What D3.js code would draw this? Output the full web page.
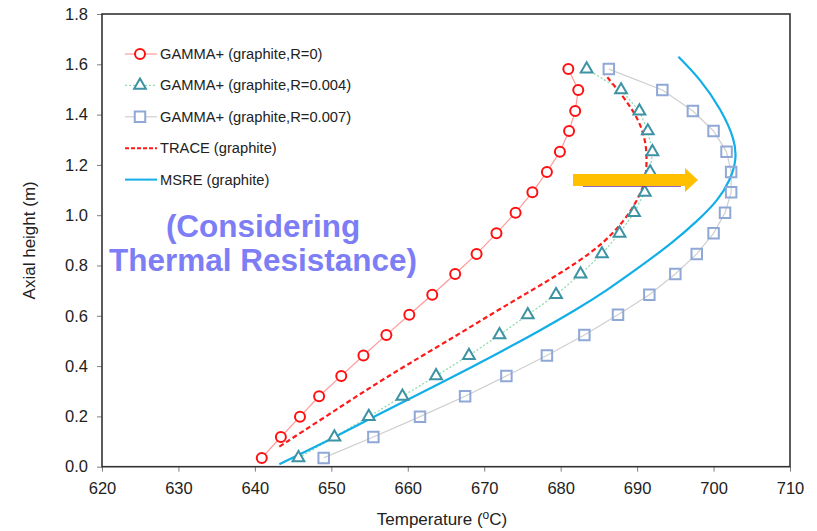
<!DOCTYPE html>
<html>
<head>
<meta charset="utf-8">
<script src="https://cdn.jsdelivr.net/npm/d3@7/dist/d3.min.js"></script>
<style>
body { margin: 0; background: #fff; }
text { font-family: Arial, "Liberation Sans", sans-serif; }
</style>
</head>
<body>
<div id="chart"></div>
<script>
// axial node heights (m) shared by the three GAMMA+ runs
var gammaHeights = [0.035, 0.118, 0.199, 0.280, 0.361, 0.442, 0.524, 0.604, 0.684, 0.766,
                    0.846, 0.928, 1.010, 1.091, 1.172, 1.252, 1.335, 1.414, 1.498, 1.581];
var gammaR0    = [640.9, 643.4, 645.9, 648.4, 651.3, 654.2, 657.2, 660.2, 663.2, 666.2,
                  669.0, 671.6, 674.1, 676.3, 678.2, 679.9, 681.1, 681.9, 682.3, 681.0];
var gammaR004  = [645.7, 650.4, 654.9, 659.3, 663.7, 668.0, 672.0, 675.7, 679.4, 682.6,
                  685.4, 687.7, 689.6, 691.0, 691.7, 692.0, 691.4, 690.3, 687.9, 683.4];
var gammaR007  = [649.0, 655.5, 661.6, 667.5, 672.9, 678.2, 683.1, 687.5, 691.6, 695.0,
                  697.8, 700.0, 701.5, 702.3, 702.3, 701.7, 700.0, 697.3, 693.3, 686.3];

var traceHeights = [0.08, 0.20, 0.30, 0.40, 0.52, 0.61, 0.69, 0.77, 0.85, 0.93,
                    1.02, 1.09, 1.14, 1.22, 1.30, 1.38, 1.46, 1.56];
var traceTemps   = [643.2, 649.3, 654.3, 659.6, 666.3, 671.1, 675.6, 680.0, 684.0, 687.0,
                    689.3, 690.5, 691.1, 691.3, 691.1, 690.2, 688.5, 685.8];

var msreHeights = [0.01, 0.11, 0.20, 0.33, 0.47, 0.54, 0.62, 0.70, 0.80, 0.89,
                   0.98, 1.06, 1.14, 1.22, 1.30, 1.42, 1.54, 1.63];
var msreTemps   = [643.2, 650.0, 655.6, 664.2, 673.0, 677.2, 681.8, 686.0, 690.6, 694.6,
                   698.0, 700.6, 702.2, 703.0, 702.8, 701.0, 698.3, 695.4];

var xTicks = [620, 630, 640, 650, 660, 670, 680, 690, 700, 710];
var yTicks = [0.0, 0.2, 0.4, 0.6, 0.8, 1.0, 1.2, 1.4, 1.6, 1.8];

var legendLabels = ['GAMMA+ (graphite,R=0)', 'GAMMA+ (graphite,R=0.004)', 'GAMMA+ (graphite,R=0.007)',
                    'TRACE (graphite)', 'MSRE (graphite)'];

var width = 817, height = 531;

var svg = d3.select('#chart')
    .append('svg')
    .attr('width', width)
    .attr('height', height);

var x = d3.scaleLinear().domain([620, 710]).range([102, 790]);
var y = d3.scaleLinear().domain([0, 1.8]).range([466.7, 14]);

// axes
var xAxis = svg.append('g')
    .attr('transform', `translate(0, ${y(0)})`)
    .call(d3.axisBottom(x).tickValues(xTicks).tickSize(5).tickPadding(11).tickFormat(d3.format('d')));

var yAxis = svg.append('g')
    .attr('transform', `translate(${x(620)}, 0)`)
    .call(d3.axisLeft(y).tickValues(yTicks).tickSize(5).tickPadding(9).tickFormat(d3.format('.1f')));

[xAxis, yAxis].forEach(function(a) {
    a.select('.domain').remove();
    a.selectAll('line').attr('stroke', '#7f7f7f');
    a.selectAll('text').style('font-size', '16.5px').attr('fill', '#222');
});

// frame
svg.append('rect')
    .attr('x', x(620))
    .attr('y', y(1.8))
    .attr('width', x(710) - x(620))
    .attr('height', y(0) - y(1.8))
    .attr('fill', 'none')
    .attr('stroke', '#333')
    .attr('stroke-width', 1.6);

// axis titles
svg.append('text')
    .attr('transform', `translate(35, ${y(0.9)})rotate(-90)`)
    .attr('text-anchor', 'middle')
    .style('font-size', '17px')
    .attr('fill', '#222')
    .text('Axial height (m)');

var xt = svg.append('text')
    .attr('x', 442)
    .attr('y', 525)
    .attr('text-anchor', 'middle')
    .style('font-size', '17px')
    .attr('fill', '#222');
xt.append('tspan').text('Temperature (');
xt.append('tspan').attr('dy', -6).style('font-size', '12px').text('o');
xt.append('tspan').attr('dy', 6).text('C)');

function pts(temps, hs) {
    return temps.map(function(t, i) { return [t, hs[i]]; });
}

var lineStraight = d3.line().x(d => x(d[0])).y(d => y(d[1]));
var lineSmooth = d3.line().x(d => x(d[0])).y(d => y(d[1])).curve(d3.curveBasis);

var r0 = pts(gammaR0, gammaHeights);
var r004 = pts(gammaR004, gammaHeights);
var r007 = pts(gammaR007, gammaHeights);
var trace = pts(traceTemps, traceHeights);
var msre = pts(msreTemps, msreHeights);

// connecting lines of the GAMMA+ runs
svg.append('path').datum(r007).attr('d', lineStraight)
    .attr('fill', 'none').attr('stroke', '#cfcfcf').attr('stroke-width', 1.2);
svg.append('path').datum(r004).attr('d', lineStraight)
    .attr('fill', 'none').attr('stroke', '#8fdcae').attr('stroke-width', 1.3)
    .attr('stroke-dasharray', '2,2');
svg.append('path').datum(r0).attr('d', lineStraight)
    .attr('fill', 'none').attr('stroke', '#ff9a9a').attr('stroke-width', 1.2);

// TRACE and MSRE
svg.append('path').datum(msre).attr('d', lineSmooth)
    .attr('fill', 'none').attr('stroke', '#12aee8').attr('stroke-width', 2.2);
svg.append('path').datum(trace).attr('d', lineSmooth)
    .attr('fill', 'none').attr('stroke', '#ff1a1a').attr('stroke-width', 2.2)
    .attr('stroke-dasharray', '5,3');

// markers
var triSym = d3.symbol().type(d3.symbolTriangle).size(60);
var sqSym = d3.symbol().type(d3.symbolSquare).size(110);

svg.append('g').selectAll('path').data(r007).join('path')
    .attr('d', sqSym)
    .attr('transform', d => `translate(${x(d[0])}, ${y(d[1])})`)
    .attr('fill', 'none').attr('stroke', '#8fa8d6').attr('stroke-width', 2);

svg.append('g').selectAll('path').data(r004).join('path')
    .attr('d', triSym)
    .attr('transform', d => `translate(${x(d[0])}, ${y(d[1])})`)
    .attr('fill', '#fff').attr('stroke', '#3d93a3').attr('stroke-width', 2);

svg.append('g').selectAll('circle').data(r0).join('circle')
    .attr('cx', d => x(d[0]))
    .attr('cy', d => y(d[1]))
    .attr('r', 5)
    .attr('fill', '#fff').attr('stroke', '#ff1010').attr('stroke-width', 2);

// legend
var legend = svg.append('g').attr('transform', 'translate(125, 54)');
var rowGap = 31.4;

legendLabels.forEach(function(label, i) {
    var row = legend.append('g').attr('transform', `translate(0, ${i * rowGap})`);
    var ln = row.append('line').attr('x1', 0).attr('x2', 32).attr('y1', 0).attr('y2', 0);
    if (i == 0) {
        ln.attr('stroke', '#ff9a9a').attr('stroke-width', 1.2);
        row.append('circle').attr('cx', 15).attr('r', 5)
            .attr('fill', '#fff').attr('stroke', '#ff1010').attr('stroke-width', 2);
    } else if (i == 1) {
        ln.attr('stroke', '#8fdcae').attr('stroke-width', 1.3).attr('stroke-dasharray', '2,2');
        row.append('path').attr('d', triSym).attr('transform', 'translate(15,0)')
            .attr('fill', '#fff').attr('stroke', '#3d93a3').attr('stroke-width', 2);
    } else if (i == 2) {
        ln.attr('stroke', '#cfcfcf').attr('stroke-width', 1.2);
        row.append('path').attr('d', sqSym).attr('transform', 'translate(15,0)')
            .attr('fill', '#fff').attr('stroke', '#8fa8d6').attr('stroke-width', 2);
    } else if (i == 3) {
        ln.attr('stroke', '#ff1a1a').attr('stroke-width', 2).attr('stroke-dasharray', '4,2');
    } else {
        ln.attr('stroke', '#12aee8').attr('stroke-width', 2);
    }
    row.append('text')
        .attr('x', 35)
        .attr('y', 5)
        .style('font-size', '14.7px')
        .attr('fill', '#222')
        .text(label);
});

// annotation
var note = svg.append('text')
    .attr('text-anchor', 'middle')
    .style('font-size', '31.5px')
    .style('font-weight', 'bold')
    .attr('fill', '#7d7df5');
note.append('tspan').attr('x', 263).attr('y', 237).text('(Considering');
note.append('tspan').attr('x', 263).attr('y', 271).text('Thermal Resistance)');

// arrow
svg.append('line')
    .attr('x1', 583).attr('x2', 681)
    .attr('y1', 186).attr('y2', 186)
    .attr('stroke', '#7030a0').attr('stroke-width', 1.5);

svg.append('path')
    .attr('d', 'M573,174 L685,174 L685,168 L698,180 L685,192 L685,186 L573,186 Z')
    .attr('fill', '#ffc000');
</script>
</body>
</html>
